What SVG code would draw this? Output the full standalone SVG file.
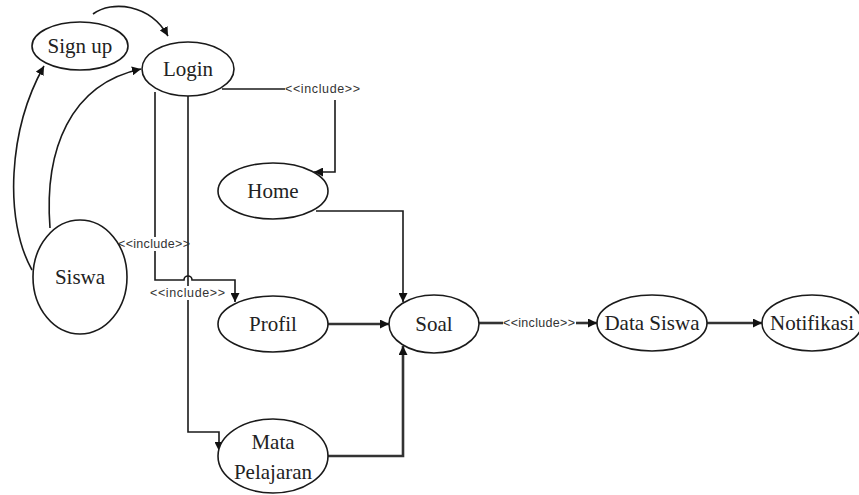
<svg xmlns="http://www.w3.org/2000/svg" width="859" height="495" viewBox="0 0 859 495">
  <style>
    .node ellipse { fill: #ffffff; stroke: #1a1a1a; stroke-width: 1.6; }
    .node text { font-family: "Liberation Serif", "Times New Roman", serif; font-size: 21px; fill: #222222; text-anchor: middle; }
    .edge { fill: none; stroke: #1a1a1a; stroke-width: 1.6; }
    .thick { stroke-width: 2.6; stroke: #333333; }
    .lbl { font-family: "Liberation Sans", Arial, sans-serif; font-size: 12.5px; fill: #333333; }
  </style>
  <defs>
    <marker id="arrow" viewBox="0 0 10 10" refX="10" refY="5" markerWidth="9" markerHeight="9" markerUnits="userSpaceOnUse" orient="auto">
      <path d="M0,0 L10,5 L0,10 Z" fill="#111111"/>
    </marker>
  </defs>
  <rect width="859" height="495" fill="#ffffff"/>

  <g id="connectors">
    <!-- Sign up to Login -->
    <path class="edge" d="M 93 14 C 112 0, 150 4, 168 36" marker-end="url(#arrow)"/>
    <!-- Siswa to Sign up -->
    <path class="edge" d="M 32 270 C 4 220, 8 130, 44 66" marker-end="url(#arrow)"/>
    <!-- Siswa to Login -->
    <path class="edge" d="M 50 228 C 44 150, 70 84, 141 69" marker-end="url(#arrow)"/>
    <!-- Login include Home -->
    <path class="edge" d="M 222 89 L 285 89"/>
    <path class="edge" d="M 335 100 L 335 172 L 314 172" marker-end="url(#arrow)"/>
    <text class="lbl" x="285" y="93" textLength="75">&lt;&lt;include&gt;&gt;</text>
    <!-- Login include Mata Pelajaran -->
    <path class="edge" d="M 188 96 L 188 432 L 219 432 L 219 451" marker-end="url(#arrow)"/>
    <!-- Login include Profil (hops over the line above) -->
    <path class="edge" d="M 155 92 L 155 280 L 184 280 A 4 4 0 0 1 192 280 L 235 280 L 235 302" marker-end="url(#arrow)"/>
    <rect x="117" y="237" width="69" height="14" fill="#ffffff"/>
    <text class="lbl" x="118" y="248" textLength="72">&lt;&lt;include&gt;&gt;</text>
    <rect x="150" y="286" width="75" height="14" fill="#ffffff"/>
    <text class="lbl" x="150" y="297" textLength="75">&lt;&lt;include&gt;&gt;</text>
    <!-- Home to Soal -->
    <path class="edge" d="M 316 211 L 403 211 L 403 302" marker-end="url(#arrow)"/>
    <!-- Profil to Soal -->
    <path class="edge thick" d="M 328 324 L 389 324" marker-end="url(#arrow)"/>
    <!-- Mata Pelajaran to Soal -->
    <path class="edge thick" d="M 328 456 L 403 456 L 403 346" marker-end="url(#arrow)"/>
    <!-- Soal include Data Siswa -->
    <path class="edge thick" d="M 479 323 L 503 323"/>
    <text class="lbl" x="503" y="327" textLength="72">&lt;&lt;include&gt;&gt;</text>
    <path class="edge thick" d="M 576 323 L 597 323" marker-end="url(#arrow)"/>
    <!-- Data Siswa to Notifikasi -->
    <path class="edge thick" d="M 707 323 L 762 323" marker-end="url(#arrow)"/>
  </g>

  <g id="signup" class="node">
    <ellipse cx="80" cy="46" rx="48" ry="24"/>
    <text x="80" y="53">Sign up</text>
  </g>
  <g id="login" class="node">
    <ellipse cx="188" cy="69" rx="46" ry="27"/>
    <text x="188" y="76">Login</text>
  </g>
  <g id="siswa" class="node">
    <ellipse cx="80" cy="277" rx="47" ry="57"/>
    <text x="80" y="284">Siswa</text>
  </g>
  <g id="home" class="node">
    <ellipse cx="273" cy="191" rx="55" ry="28"/>
    <text x="273" y="198">Home</text>
  </g>
  <g id="profil" class="node">
    <ellipse cx="273" cy="324" rx="55" ry="28"/>
    <text x="273" y="331">Profil</text>
  </g>
  <g id="soal" class="node">
    <ellipse cx="434" cy="324" rx="45" ry="29"/>
    <text x="434" y="331">Soal</text>
  </g>
  <g id="mata-pelajaran" class="node">
    <ellipse cx="273" cy="456" rx="55" ry="37"/>
    <text x="273" y="449">Mata</text>
    <text x="273" y="479">Pelajaran</text>
  </g>
  <g id="data-siswa" class="node">
    <ellipse cx="652" cy="323" rx="55" ry="28"/>
    <text x="652" y="330">Data Siswa</text>
  </g>
  <g id="notifikasi" class="node">
    <ellipse cx="812" cy="323" rx="50" ry="28"/>
    <text x="812" y="330">Notifikasi</text>
  </g>
</svg>
